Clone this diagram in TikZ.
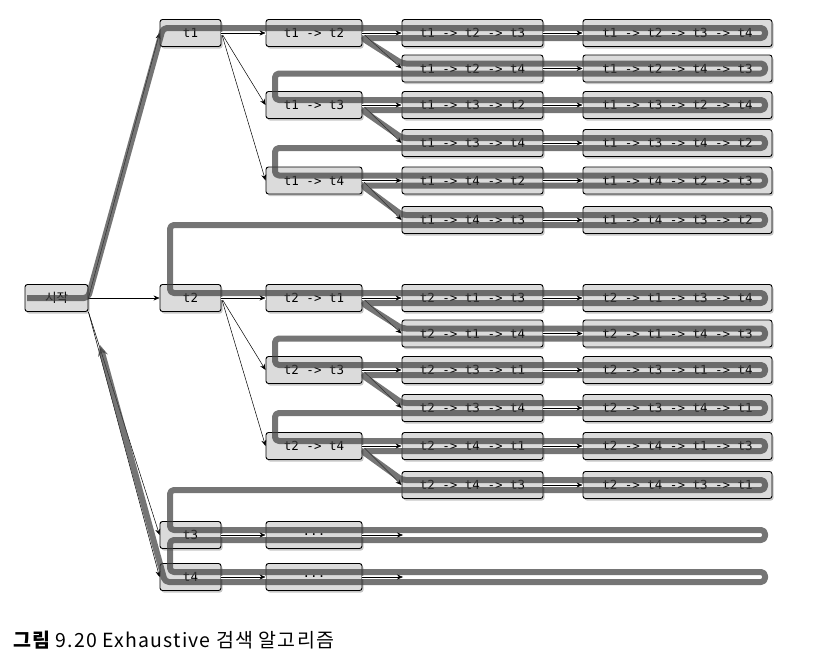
\documentclass[tikz,border=0pt]{standalone}
\usepackage{fontspec}
\setmonofont{DejaVu Sans Mono}
\newfontfamily\krfont{Noto Sans CJK KR}
\newfontfamily\capfont[LetterSpace=6]{Noto Sans CJK KR}
\usepackage{tikz}
\usetikzlibrary{arrows.meta, positioning, shadows}

\definecolor{boxgray}{gray}{0.86}

\begin{document}
\begin{tikzpicture}[
    x=1pt, y=-1pt,
    box/.style={draw, rounded corners=2.5pt, fill=boxgray, line width=0.9pt,
        minimum height=27pt, inner sep=0pt, font=\ttfamily\fontsize{12.5}{13}\selectfont,
        drop shadow={shadow xshift=1.5pt, shadow yshift=-2pt, opacity=0.45}},
    lvl1/.style={box, minimum width=61pt},
    lvl2/.style={box, minimum width=96pt},
    lvl3/.style={box, minimum width=141pt},
    lvl4/.style={box, minimum width=189pt},
    link/.style={-{Stealth[length=6pt, width=5pt]}, line width=0.5pt},
    halo/.style={link, preaction={draw=white, line width=3pt, -}},
    track/.style={draw=black!75, line width=6pt, opacity=0.72, rounded corners=4pt,
        line join=round, -{Stealth[length=11pt, width=10pt]}}
]
\useasboundingbox (0,0) rectangle (814,670);

% === NODES ===
\node[box, minimum width=63pt, font=\krfont\fontsize{12.5}{13}\selectfont] (start) at (56.5,298) {시작};

\node[lvl1] (t1) at (190.5,33) {t1};
\node[lvl1] (t2) at (190.5,298) {t2};
\node[lvl1] (t3) at (190.5,535) {t3};
\node[lvl1] (t4) at (190.5,577) {t4};

\node[lvl2] (t12) at (314,33) {t1 -> t2};
\node[lvl2] (t13) at (314,105) {t1 -> t3};
\node[lvl2] (t14) at (314,180.5) {t1 -> t4};
\node[lvl2] (t21) at (314,298) {t2 -> t1};
\node[lvl2] (t23) at (314,370) {t2 -> t3};
\node[lvl2] (t24) at (314,446) {t2 -> t4};
\node[lvl2] (t3d) at (314,535) {...};
\node[lvl2] (t4d) at (314,577) {...};
\coordinate (t3e) at (403,535);
\coordinate (t4e) at (403,577);

\foreach \y/\p/\q/\n/\m in {
    33/{t1 -> t2 -> t3}/{t1 -> t2 -> t3 -> t4}/123/1234,
    68.5/{t1 -> t2 -> t4}/{t1 -> t2 -> t4 -> t3}/124/1243,
    105/{t1 -> t3 -> t2}/{t1 -> t3 -> t2 -> t4}/132/1324,
    143/{t1 -> t3 -> t4}/{t1 -> t3 -> t4 -> t2}/134/1342,
    180.5/{t1 -> t4 -> t2}/{t1 -> t4 -> t2 -> t3}/142/1423,
    220/{t1 -> t4 -> t3}/{t1 -> t4 -> t3 -> t2}/143/1432,
    298/{t2 -> t1 -> t3}/{t2 -> t1 -> t3 -> t4}/213/2134,
    333.5/{t2 -> t1 -> t4}/{t2 -> t1 -> t4 -> t3}/214/2143,
    370/{t2 -> t3 -> t1}/{t2 -> t3 -> t1 -> t4}/231/2314,
    408/{t2 -> t3 -> t4}/{t2 -> t3 -> t4 -> t1}/234/2341,
    446/{t2 -> t4 -> t1}/{t2 -> t4 -> t1 -> t3}/241/2413,
    485/{t2 -> t4 -> t3}/{t2 -> t4 -> t3 -> t1}/243/2431}{
    \node[lvl3] (t\n) at (472.5,\y) {\p};
    \node[lvl4] (t\m) at (677.5,\y) {\q};
}

% === LINKS UNDER THE SEARCH PATH ===
\draw[link] (start.east) -- (t1.west);
\draw[link] (start) -- (t2);
\draw[link] (start.south east) -- (t3.west);
\draw[link] (start.south east) -- (t4.west);
\draw[link] (t1.east) -- (t13.west);
\draw[link] (t1.east) -- (t14.west);
\draw[link] (t2.east) -- (t23.west);
\draw[link] (t2.east) -- (t24.west);
\draw[link] (t12.east) -- (t124.west);
\draw[link] (t13.east) -- (t134.west);
\draw[link] (t14.east) -- (t143.west);
\draw[link] (t21.east) -- (t214.west);
\draw[link] (t23.east) -- (t234.west);
\draw[link] (t24.east) -- (t243.west);

% === SEARCH PATH ===
\draw[track] (27,298) -- (88,298) -- (163,28)
    \foreach \a/\b in {33/68.5, 105/143, 180.5/220}{
        -- (275,\a-5) -- (765,\a-5) -- (765,\a+5) -- (362,\a+5)
        -- (402,\b-5) -- (765,\b-5) -- (765,\b+5) -- (275,\b+5)}
    -- (170,225) -- (170,293)
    \foreach \a/\b in {298/333.5, 370/408, 446/485}{
        -- (275,\a-5) -- (765,\a-5) -- (765,\a+5) -- (362,\a+5)
        -- (402,\b-5) -- (765,\b-5) -- (765,\b+5) -- (275,\b+5)}
    -- (170,490) -- (170,530) -- (765,530) -- (765,540) -- (170,540)
    -- (170,572) -- (765,572) -- (765,582) -- (165,582) -- (100,345);

% === LINKS OVER THE SEARCH PATH ===
\draw[halo] (t1) -- (t12);
\draw[halo] (t2) -- (t21);
\draw[halo] (t12) -- (t123);
\draw[halo] (t13) -- (t132);
\draw[halo] (t14) -- (t142);
\draw[halo] (t21) -- (t213);
\draw[halo] (t23) -- (t231);
\draw[halo] (t24) -- (t241);
\foreach \n/\m in {123/1234, 124/1243, 132/1324, 134/1342, 142/1423, 143/1432,
    213/2134, 214/2143, 231/2314, 234/2341, 241/2413, 243/2431}
    \draw[halo] (t\n) -- (t\m);
\draw[halo] (t3) -- (t3d);
\draw[halo] (t3d) -- (t3e);
\draw[halo] (t4) -- (t4d);
\draw[halo] (t4d) -- (t4e);

% === CAPTION ===
\node[anchor=base west, inner sep=0pt, font=\capfont\fontsize{19.5}{22}\selectfont] (caption) at (13,647)
    {{\bfseries 그림} 9.20 Exhaustive 검색 알고리즘};

\end{tikzpicture}
\end{document}
